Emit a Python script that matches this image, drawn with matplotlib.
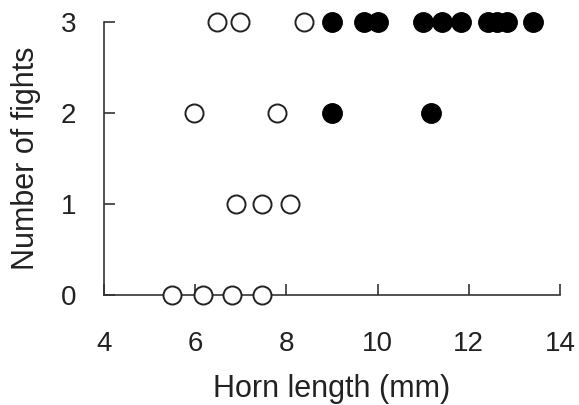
import matplotlib.pyplot as plt

plt.rcParams["font.family"] = ["Liberation Sans", "DejaVu Sans"]

# open circles (small horns)
open_x = [6.48, 6.97, 8.38, 5.97, 7.80, 6.89, 7.47, 8.08, 5.49, 6.17, 6.81, 7.47]
open_y = [3, 3, 3, 2, 2, 1, 1, 1, 0, 0, 0, 0]

# filled circles (large horns)
filled_x = [8.99, 9.70, 10.01, 11.00, 11.42, 11.82, 12.43, 12.61, 12.83, 13.42,
            8.99, 11.18]
filled_y = [3, 3, 3, 3, 3, 3, 3, 3, 3, 3, 2, 2]

xticks = [4, 6, 8, 10, 12, 14]
yticks = [0, 1, 2, 3]

fig = plt.figure(figsize=(5.79, 4.05), dpi=100)
ax = fig.add_axes([0.18, 0.272, 0.787, 0.674])

ax.plot(open_x, open_y, "o", ms=13, mfc="white", mec="#222222", mew=1.4,
        clip_on=False, zorder=3)
ax.plot(filled_x, filled_y, "o", ms=14, mfc="black", mec="black", mew=1,
        clip_on=False, zorder=3)

ax.set_xlim(4, 14)
ax.set_ylim(0, 3)
ax.set_xticks(xticks)
ax.set_yticks(yticks)

for s in ["top", "right"]:
    ax.spines[s].set_visible(False)
for s in ["left", "bottom"]:
    ax.spines[s].set_linewidth(1.2)
    ax.spines[s].set_color("#333333")

ax.tick_params(direction="in", length=8, width=1.2, color="#333333",
               labelsize=20, labelcolor="#222222")
ax.tick_params(axis="x", pad=26)
ax.tick_params(axis="y", pad=20)

ax.set_xlabel("Horn length (mm)", fontsize=22, color="#222222", labelpad=12)
ax.set_ylabel("Number of fights", fontsize=22, color="#222222", labelpad=14)

fig.savefig("out.png", dpi=100)
